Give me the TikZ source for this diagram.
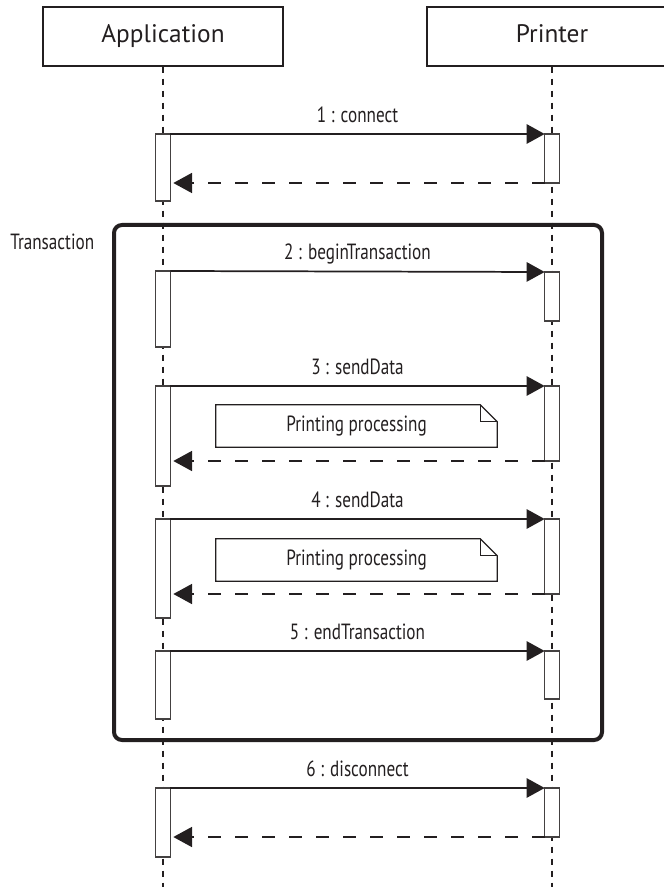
\documentclass[tikz,border=0pt]{standalone}
\usepackage{fontspec}
\setmainfont{PT Sans}
\newfontfamily\condfont[FakeStretch=0.78]{PT Sans}
\usetikzlibrary{arrows.meta,positioning}

\definecolor{ink}{HTML}{231F20}

\tikzset{
  headbox/.style={draw=ink, line width=0.9pt, minimum height=44.25pt, inner sep=0pt, text=ink,
    font=\fontsize{19}{21}\selectfont, text height=1.1em, text depth=0.18em},
  lifeline/.style={draw=ink, line width=1.1pt, dash pattern=on 4.5pt off 4.5pt},
  actbox/.style={draw=ink!85, fill=white, line width=0.8pt, minimum width=11pt, inner sep=0pt, outer sep=0pt},
  call/.style={draw=ink, line width=1.3pt, -{Triangle[length=13.5pt,width=14.5pt]}},
  reply/.style={draw=ink, line width=1.1pt, dash pattern=on 9.75pt off 10.5pt,
    -{Triangle[length=14pt,width=15pt]}, shorten >=2.25pt},
  msglbl/.style={midway, anchor=base, yshift=8.8pt, inner sep=0pt, text=ink,
    font=\condfont\fontsize{16.5}{18}\selectfont},
  notetext/.style={minimum width=210.75pt, minimum height=31.5pt, inner sep=0pt, text=ink,
    font=\condfont\fontsize{16.5}{18}\selectfont, text height=0.95em, text depth=0.13em},
  notebox/.style={draw=ink, line width=0.9pt},
  frame/.style={draw=ink, line width=3pt, rounded corners=6pt, inner sep=0pt,
    minimum width=366pt, minimum height=386.25pt}
}

\newcommand{\activ}[4]{% name, x, top, bottom
\node[actbox, minimum height={(#4-#3)*0.75pt}] (#1) at (#2,{(#3+#4)/2}) {};
}

\newcommand{\notebox}[2]{% name, top
\node[notetext] (#1) at (356.5,#2+21) {Printing processing};
\draw[notebox] (#1.north west) -- ([xshift=-12.75pt]#1.north east) -- ([yshift=-12.75pt]#1.north east) -- (#1.south east) -- (#1.south west) -- cycle;
\draw[notebox] ([xshift=-12.75pt]#1.north east) |- ([yshift=-12.75pt]#1.north east);
}

\begin{document}
\begin{tikzpicture}[x=0.75pt, y=-0.75pt]
\useasboundingbox (0,0) rectangle (663,887);

% heads and lifelines
\node[headbox, minimum width=180pt] (app) at (163,36.5) {Application};
\node[headbox, minimum width=187.5pt] (prt) at (552,36.5) {Printer};
\coordinate (bottom) at (0,887);
\draw[lifeline] (app.south) -- (app.south |- bottom);
\draw[lifeline] (prt.south) -- (prt.south |- bottom);

% activations
\activ{a1}{163}{134}{201}
\activ{p1}{552}{134}{183}
\activ{a2}{163}{271}{347}
\activ{p2}{552}{272}{321}
\activ{a3}{163}{386}{486}
\activ{p3}{552}{386}{461}
\activ{a4}{163}{519}{618}
\activ{p4}{552}{519}{594}
\activ{a5}{163}{651}{719}
\activ{p5}{552}{651}{699}
\activ{a6}{163}{788}{857}
\activ{p6}{552}{788}{837}

% messages
\draw[call] (a1.north east) -- node[msglbl] {1 : connect} (p1.north west);
\draw[reply] (p1.south west) -- (p1.south west -| a1.east);

\draw[call] (a2.north east) -- node[msglbl] {2 : beginTransaction} (p2.north west);

\draw[call] (a3.north east) -- node[msglbl] {3 : sendData} (p3.north west);
\notebox{n3}{405}
\draw[reply] (p3.south west) -- (p3.south west -| a3.east);

\draw[call] (a4.north east) -- node[msglbl] {4 : sendData} (p4.north west);
\notebox{n4}{539}
\draw[reply] (p4.south west) -- (p4.south west -| a4.east);

\draw[call] (a5.north east) -- node[msglbl] {5 : endTransaction} (p5.north west);

\draw[call] (a6.north east) -- node[msglbl] {6 : disconnect} (p6.north west);
\draw[reply] (p6.south west) -- (p6.south west -| a6.east);

% transaction frame
\node[frame] (trans) at (358,482.5) {};
\node[anchor=base west, inner sep=0pt, text=ink, font=\condfont\fontsize{16.5}{18}\selectfont] (translbl) at (10,250) {Transaction};

\end{tikzpicture}
\end{document}
